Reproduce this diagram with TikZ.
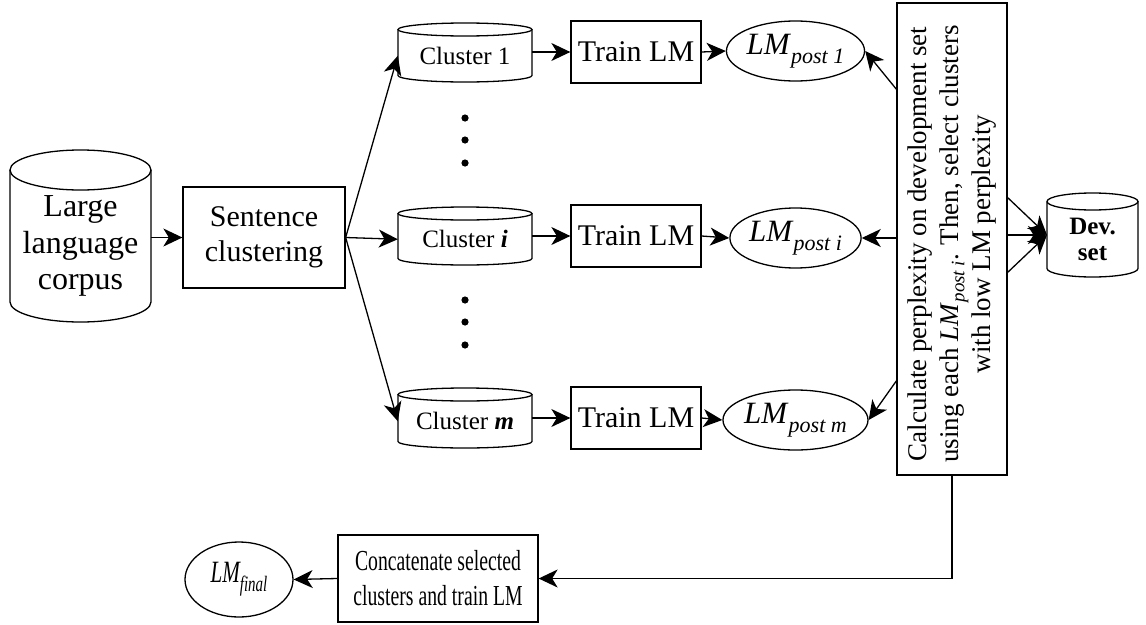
\documentclass[tikz,border=0pt]{standalone}
\usepackage{fontspec}
\setmainfont{Liberation Serif}
\newfontfamily\condfont[FakeStretch=0.68]{Liberation Serif}
\usetikzlibrary{arrows.meta,shapes.geometric,calc}
\tikzset{
  ln/.style={line width=1.3pt},
  arr/.style={ln,-{Stealth[length=19pt,width=18pt,inset=5.5pt]}},
  boxnode/.style={draw,ln,inner sep=0pt,align=center},
  ellnode/.style={draw,ln,ellipse,inner sep=0pt,minimum width=123pt,minimum height=60pt},
  bigtxt/.style={font=\fontsize{30}{35}\selectfont},
  corptxt/.style={font=\fontsize{32}{36.5}\selectfont},
  cltxt/.style={font=\fontsize{25}{29}\selectfont},
  devtxt/.style={font=\fontsize{25}{26}\selectfont\bfseries},
  rottxt/.style={font=\fontsize{27}{32}\selectfont,align=center,inner sep=0pt},
  trainbox/.style={boxnode,bigtxt,minimum width=130pt,minimum height=62pt},
  dot/.style={fill=black}
}
\newcommand\cylnode[8]{%
  \draw[ln] (#2,{#3+#6}) ellipse[x radius=#5pt, y radius=#6pt];
  \draw[ln] ({#2-#5},{#3+#6}) -- ({#2-#5},{#4-#6}) arc[start angle=180,end angle=360,x radius=#5pt,y radius=#6pt] -- ({#2+#5},{#3+#6});
  \node[#7, minimum width={2*#5pt}, minimum height={(#4-#3)*1pt}, inner sep=0pt, align=center] (#1) at (#2,{(#3+#4)/2+#6/2}) {#8};
}
\newcommand\lmsub[3]{\textit{LM}\raisebox{#3}{\fontsize{#2}{#2}\selectfont\textit{#1}}}
\begin{document}
\begin{tikzpicture}[x=1pt,y=-1pt]
\useasboundingbox (0,0) rectangle (1146,624);
% corpus and clustering
\cylnode{corpus}{80.5}{150}{322}{70.5}{20}{corptxt}{Large\\language\\corpus}
\node[boxnode,bigtxt,minimum width=162pt,minimum height=101pt] (sent) at (264,237.5) {Sentence\\clustering};
% clusters
\cylnode{c1}{465}{23}{82}{67}{6.5}{cltxt}{Cluster 1}
\cylnode{ci}{465}{207}{265}{67}{6.5}{cltxt}{Cluster \textbf{\textit{i}}}
\cylnode{cm}{465}{388}{448}{67}{6.5}{cltxt}{Cluster \textbf{\textit{m}}}
% train boxes
\node[trainbox] (t1) at (636,52) {Train LM};
\node[trainbox] (ti) at (636,236) {Train LM};
\node[trainbox] (tm) at (636,418) {Train LM};
% LM post ellipses
\node[ellnode] (p1) at (795.5,51) {\fontsize{31}{31}\selectfont\lmsub{post 1}{22}{-9pt}};
\node[ellnode] (pi) at (795.5,238) {\fontsize{31}{31}\selectfont\lmsub{post i}{22}{-9pt}};
\node[ellnode] (pm) at (795.5,420) {\fontsize{31}{31}\selectfont\lmsub{post m}{22}{-9pt}};
% big box
\node[boxnode,minimum width=110pt,minimum height=472pt] (big) at (952,239) {};
\node[rottxt,rotate=90] (bigtext) at ([yshift=-5pt]big.center) {Calculate perplexity on development set\\using each \lmsub{post i}{19}{-6pt}. Then, select clusters\\with low LM perplexity};
% dev set
\cylnode{dev}{1092.5}{193}{277}{45.5}{8.5}{devtxt}{Dev.\\set}
% bottom row
\node[boxnode,minimum width=200pt,minimum height=87pt,font=\condfont\fontsize{29}{35}\selectfont] (cat) at (438,578.5) {Concatenate selected\\clusters and train LM};
\node[draw,ln,ellipse,inner sep=0pt,minimum width=108pt,minimum height=75pt] (fin) at (239,579.5) {\condfont\itshape\fontsize{31}{31}\selectfont LM\raisebox{-9pt}{\fontsize{22}{22}\selectfont final}};
% dots
\foreach \yy in {118,140,163,300,322,345} \fill[dot] (465,\yy) circle[radius=3.6pt];
% connectors
\draw[arr] (corpus.east |- sent) -- (sent.west);
\draw[arr] (sent.east) -- (c1.west);
\draw[arr] (sent.east) -- (ci.west);
\draw[arr] (sent.east) -- (cm.west);
\draw[arr] (c1.east |- t1) -- (t1.west);
\draw[arr] (ci.east |- ti) -- (ti.west);
\draw[arr] (cm.east |- tm) -- (tm.west);
\draw[arr] (t1.east) -- (p1.west);
\draw[arr] (ti.east) -- (pi.west);
\draw[arr] (tm.east) -- (pm.west);
\coordinate (b1) at (897,90);
\coordinate (bm) at (897,380);
\draw[arr] (b1) -- (p1.east);
\draw[arr] (big.west |- pi) -- (pi.east);
\draw[arr] (bm) -- (pm.east);
\coordinate (d1) at (1007,197);
\coordinate (d2) at (1007,235);
\coordinate (d3) at (1007,273);
\coordinate (devin) at (1047,235);
\draw[arr] (d1) -- (devin);
\draw[arr] (d2) -- (devin);
\draw[arr] (d3) -- (devin);
\draw[arr] (big.south) |- (cat.east);
\draw[arr] (cat.west) -- (fin.east);
\end{tikzpicture}
\end{document}
